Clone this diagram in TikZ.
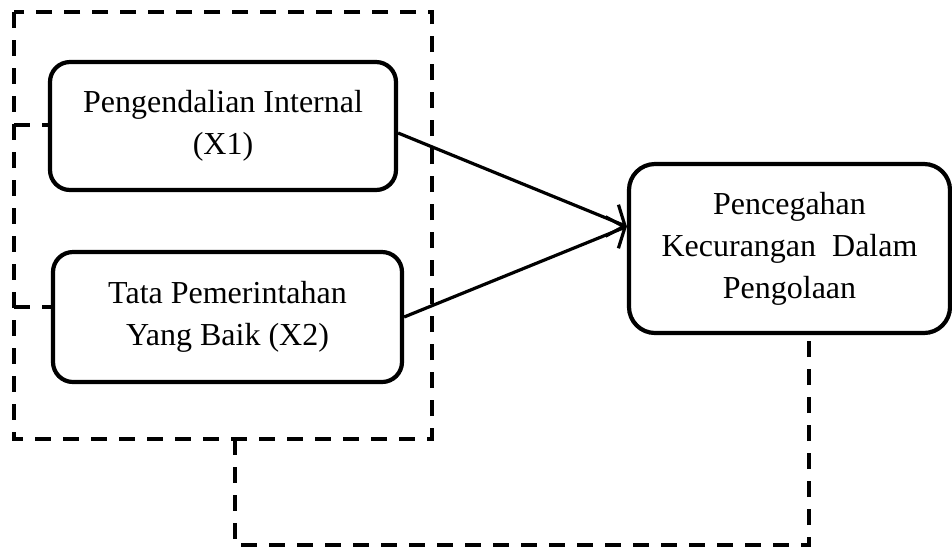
\documentclass[tikz,border=0pt]{standalone}
\usepackage{fontspec}
\setmainfont{Liberation Serif}
\usepackage{tikz}
\usetikzlibrary{arrows.meta}

\begin{document}
\begin{tikzpicture}[x=0.5pt, y=-0.5pt, node distance=95.5pt,
        var/.style={draw, line width=2.1pt, rounded corners=10pt, align=center, inner sep=0pt,
            font=\fontsize{16}{21}\selectfont},
        dashline/.style={line width=1.7pt, dash pattern=on 8pt off 6pt},
        arr/.style={line width=1.6pt, -{Straight Barb[length=7pt,width=17pt]}}]
        \useasboundingbox (0,0) rectangle (952,548);
        \draw[dashline] (14,12) rectangle (432,439);
        \node[var, minimum width=173pt, minimum height=64pt]   (x1) at (223,126)   {Pengendalian Internal\\(X1)};
        \node[var, minimum width=174.5pt, minimum height=65pt] (x2) [below of = x1, xshift=2.25pt]  {Tata Pemerintahan\\Yang Baik (X2)};
        \node[var, minimum width=160.5pt, minimum height=84.5pt, rounded corners=13pt] (y) at (789.5,248.5)  {Pencegahan\\Kecurangan\ \ Dalam\\Pengolaan};
        \coordinate (c1) at (14,125);
        \coordinate (c2) at (14,307);
        \coordinate (b1) at (235,439);
        \coordinate (b2) at (809,545);
        \draw[dashline] (c1) -- (c1 -| x1.west);
        \draw[dashline] (c2) -- (c2 -| x2.west);
        \draw[dashline] (b1) |- (b2) -- (b2 |- y.south);
        \draw[arr] ([yshift=-3.5pt]x1.east) -- ([yshift=11pt]y.west);
        \draw[arr] (x2.east) -- ([yshift=11pt]y.west);
    \end{tikzpicture}
\end{document}
